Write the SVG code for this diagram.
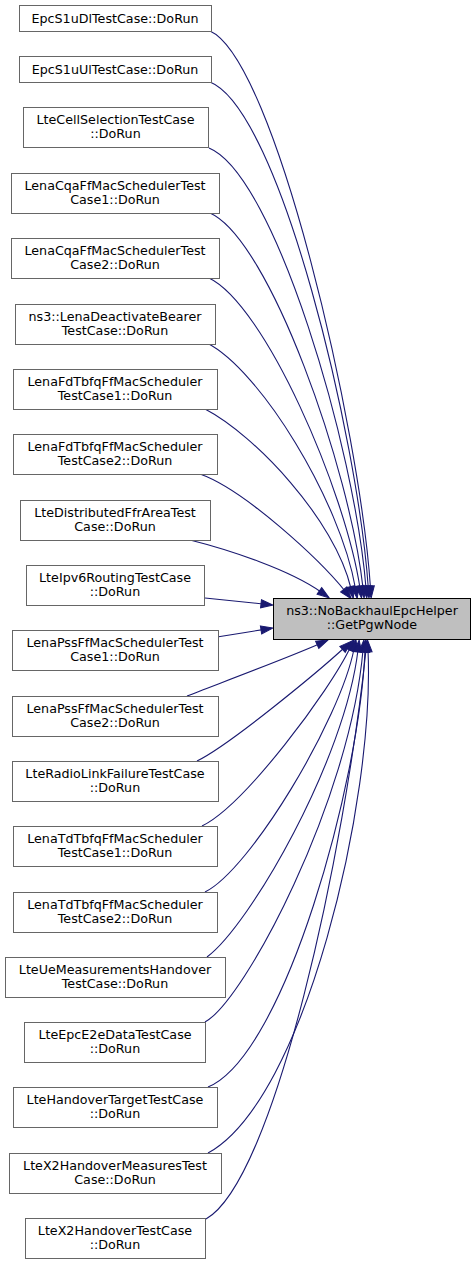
<svg xmlns="http://www.w3.org/2000/svg" width="476" height="1265" viewBox="0 0 476 1265">
<style>
.n rect{fill:#ffffff;stroke:#666666;stroke-width:1}
.t rect{fill:#bfbfbf;stroke:#000000;stroke-width:1}
text{font-family:"DejaVu Sans","Liberation Sans",sans-serif;font-size:12.7px;fill:#000000;text-anchor:middle}
.e path{fill:none;stroke:#191970;stroke-width:1.1;marker-end:url(#ah)}
</style>
<defs>
<marker id="ah" markerUnits="userSpaceOnUse" markerWidth="13" markerHeight="10" refX="2" refY="4.5" orient="auto" overflow="visible">
<path d="M0,0.5 L12,4.5 L0,8.5 Z" fill="#191970" stroke="#191970" stroke-width="1"/>
</marker>
</defs>
<rect x="0" y="0" width="476" height="1265" fill="#ffffff"/>
<g id="edges" class="e">
<path d="M210,31 C275,60 360,430 370.5,588"/>
<path d="M210,82 C280,110 358,440 368.3,588"/>
<path d="M209,148 C275,175 355,450 366,588"/>
<path d="M210,213 C270,240 350,470 363,588"/>
<path d="M209,278 C265,305 345,490 360,588"/>
<path d="M207,343 C260,370 340,500 355.5,588.5"/>
<path d="M205,409 C255,435 335,520 351,588.5"/>
<path d="M200,474 C245,490 320,560 345,591"/>
<path d="M190,540 C230,550 290,570 321,592"/>
<path d="M205,598 C225,600 245,602 263,604"/>
<path d="M217,637 C230,635 248,632 263,629.6"/>
<path d="M187,696 C215,685 290,657 319,644"/>
<path d="M197,761 C230,745 320,670 344,648"/>
<path d="M202,826 C245,805 330,690 350,648"/>
<path d="M205,892 C250,870 340,720 354,649"/>
<path d="M207,957 C250,925 345,760 358,650"/>
<path d="M205,1022 C245,1000 350,800 363,650"/>
<path d="M208,1087 C285,1055 360,780 365,650"/>
<path d="M208,1153 C305,1100 375,800 368,650"/>
<path d="M206,1219 C275,1180 345,850 366,650"/>
</g>
<g id="target" class="t"><rect x="273.5" y="598.5" width="197" height="41"/><text x="372" y="615">ns3::NoBackhaulEpcHelper</text><text x="372" y="629">::GetPgwNode</text></g>
<g id="n1" class="n"><rect x="19.5" y="5.5" width="192" height="26"/><text x="115" y="22.5">EpcS1uDlTestCase::DoRun</text></g>
<g id="n2" class="n"><rect x="19.5" y="56.5" width="192" height="26"/><text x="115" y="73.5">EpcS1uUlTestCase::DoRun</text></g>
<g id="n3" class="n"><rect x="23.5" y="107.5" width="185" height="40"/><text x="115.5" y="124">LteCellSelectionTestCase</text><text x="115.5" y="138">::DoRun</text></g>
<g id="n4" class="n"><rect x="11.5" y="173.5" width="208" height="40"/><text x="115" y="190">LenaCqaFfMacSchedulerTest</text><text x="115" y="204">Case1::DoRun</text></g>
<g id="n5" class="n"><rect x="11.5" y="238.5" width="208" height="40"/><text x="115" y="255">LenaCqaFfMacSchedulerTest</text><text x="115" y="269">Case2::DoRun</text></g>
<g id="n6" class="n"><rect x="15.5" y="304.5" width="200" height="40"/><text x="115" y="321">ns3::LenaDeactivateBearer</text><text x="115" y="335">TestCase::DoRun</text></g>
<g id="n7" class="n"><rect x="13.5" y="369.5" width="204" height="40"/><text x="115" y="386">LenaFdTbfqFfMacScheduler</text><text x="115" y="400">TestCase1::DoRun</text></g>
<g id="n8" class="n"><rect x="13.5" y="434.5" width="204" height="40"/><text x="115" y="451">LenaFdTbfqFfMacScheduler</text><text x="115" y="465">TestCase2::DoRun</text></g>
<g id="n9" class="n"><rect x="20.5" y="500.5" width="190" height="40"/><text x="115" y="517">LteDistributedFfrAreaTest</text><text x="115" y="531">Case::DoRun</text></g>
<g id="n10" class="n"><rect x="26.5" y="565.5" width="178" height="40"/><text x="115" y="582">LteIpv6RoutingTestCase</text><text x="115" y="596">::DoRun</text></g>
<g id="n11" class="n"><rect x="12.5" y="630.5" width="206" height="40"/><text x="115" y="647">LenaPssFfMacSchedulerTest</text><text x="115" y="661">Case1::DoRun</text></g>
<g id="n12" class="n"><rect x="12.5" y="696.5" width="206" height="40"/><text x="115" y="713">LenaPssFfMacSchedulerTest</text><text x="115" y="727">Case2::DoRun</text></g>
<g id="n13" class="n"><rect x="12.5" y="761.5" width="206" height="40"/><text x="115" y="778">LteRadioLinkFailureTestCase</text><text x="115" y="792">::DoRun</text></g>
<g id="n14" class="n"><rect x="13.5" y="826.5" width="204" height="40"/><text x="115" y="843">LenaTdTbfqFfMacScheduler</text><text x="115" y="857">TestCase1::DoRun</text></g>
<g id="n15" class="n"><rect x="13.5" y="892.5" width="204" height="40"/><text x="115" y="909">LenaTdTbfqFfMacScheduler</text><text x="115" y="923">TestCase2::DoRun</text></g>
<g id="n16" class="n"><rect x="5.5" y="957.5" width="220" height="40"/><text x="115" y="974">LteUeMeasurementsHandover</text><text x="115" y="988">TestCase::DoRun</text></g>
<g id="n17" class="n"><rect x="24.5" y="1022.5" width="181" height="40"/><text x="115" y="1039">LteEpcE2eDataTestCase</text><text x="115" y="1053">::DoRun</text></g>
<g id="n18" class="n"><rect x="13.5" y="1087.5" width="204" height="40"/><text x="115" y="1104">LteHandoverTargetTestCase</text><text x="115" y="1118">::DoRun</text></g>
<g id="n19" class="n"><rect x="9.5" y="1153.5" width="212" height="40"/><text x="115" y="1170">LteX2HandoverMeasuresTest</text><text x="115" y="1184">Case::DoRun</text></g>
<g id="n20" class="n"><rect x="25.5" y="1218.5" width="180" height="40"/><text x="115" y="1235">LteX2HandoverTestCase</text><text x="115" y="1249">::DoRun</text></g>
</svg>
